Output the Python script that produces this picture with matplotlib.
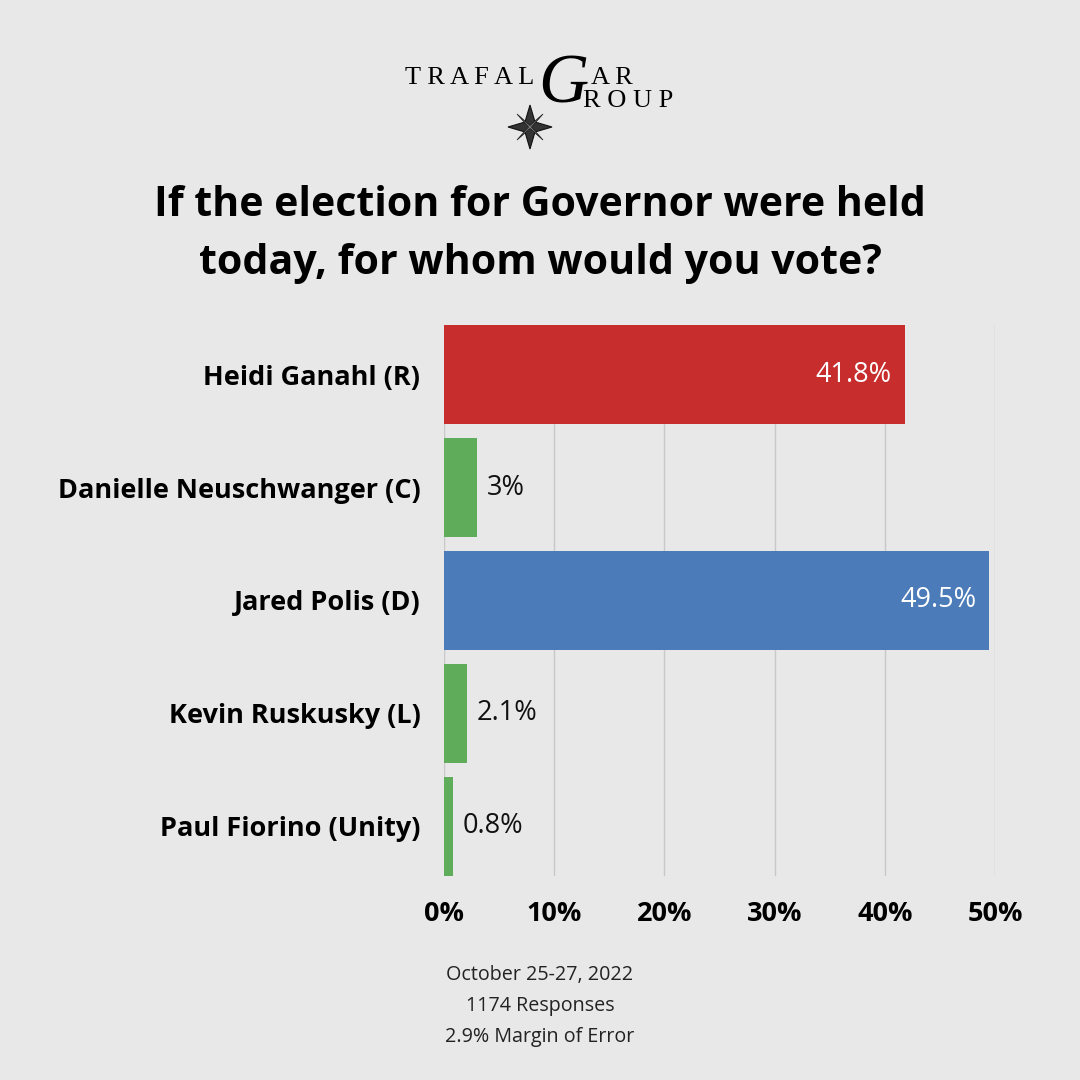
import matplotlib.pyplot as plt
import matplotlib.patches as mpatches

# poll data
candidates = ['Heidi Ganahl (R)', 'Danielle Neuschwanger (C)', 'Jared Polis (D)',
              'Kevin Ruskusky (L)', 'Paul Fiorino (Unity)']
shares = [41.8, 3, 49.5, 2.1, 0.8]
share_labels = ['41.8%', '3%', '49.5%', '2.1%', '0.8%']
bar_colors = ['#C82D2E', '#5FAD5A', '#4B7BB8', '#5FAD5A', '#5FAD5A']
x_ticks = [0, 10, 20, 30, 40, 50]
x_tick_labels = ['0%', '10%', '20%', '30%', '40%', '50%']

bg = '#E8E8E8'
plt.rcParams['font.family'] = ['Open Sans', 'DejaVu Sans']

fig = plt.figure(figsize=(10.8, 10.8), dpi=100, facecolor=bg)

# plot area in pixel terms: x 444..995, y 325..876
ax = fig.add_axes([444 / 1080, 1 - 876 / 1080, (995 - 444) / 1080, (876 - 325) / 1080])
ax.set_facecolor(bg)

pos = list(range(len(candidates)))
ax.barh(pos, shares, height=0.88, color=bar_colors, zorder=3)
ax.set_xlim(0, 50)
ax.set_ylim(4.44, -0.44)

# value labels
for i, v in enumerate(shares):
    if v > 20:
        ax.text(v - 1.2, i, share_labels[i], ha='right', va='center',
                color='white', fontsize=19.5, zorder=4)
    else:
        ax.text(v + 0.9, i, share_labels[i], ha='left', va='center',
                color='#111111', fontsize=19.5, zorder=4)

ax.set_yticks(pos)
ax.set_yticklabels(candidates, fontsize=19.5, fontweight='bold')
ax.set_xticks(x_ticks)
ax.set_xticklabels(x_tick_labels, fontsize=19.5, fontweight='bold')
ax.tick_params(axis='y', length=0, pad=17)
ax.tick_params(axis='x', length=0, pad=18)
ax.grid(axis='x', color='#C8C8C8', linewidth=1, zorder=0)
for s in ax.spines.values():
    s.set_visible(False)

# title
fig.text(0.5, 1 - 205 / 1080, 'If the election for Governor were held', ha='center',
         va='center', fontsize=29.6, fontweight='bold')
fig.text(0.5, 1 - 264 / 1080, 'today, for whom would you vote?', ha='center',
         va='center', fontsize=29.6, fontweight='bold')

# logo (approximation)
serif = 'Liberation Serif'
fig.text(405 / 1080, 1 - 78 / 1080, 'T R A F A L', ha='left', va='center',
         fontsize=19, family=serif)
fig.text(591 / 1080, 1 - 78 / 1080, 'A R', ha='left', va='center',
         fontsize=19, family=serif)
fig.text(583 / 1080, 1 - 101 / 1080, 'R O U P', ha='left', va='center',
         fontsize=19, family=serif)
fig.text(563 / 1080, 1 - 86 / 1080, 'G', ha='center', va='center',
         fontsize=50, family=serif, style='italic')

# compass star
cx, cy, r1, r2 = 530 / 1080, 1 - 127 / 1080, 22 / 1080, 5 / 1080
star_pts = [(cx, cy + r1), (cx + r2, cy + r2), (cx + r1, cy), (cx + r2, cy - r2),
            (cx, cy - r1), (cx - r2, cy - r2), (cx - r1, cy), (cx - r2, cy + r2),
            (cx, cy + r1)]
fig.patches.append(mpatches.Polygon(star_pts, closed=True, transform=fig.transFigure,
                                    facecolor='#333333', edgecolor='#111111', lw=0.8))
r3 = 13 / 1080
diag = [(cx + r3, cy + r3), (cx + r2 * 0.3, cy), (cx + r3, cy - r3), (cx, cy - r2 * 0.3),
        (cx - r3, cy - r3), (cx - r2 * 0.3, cy), (cx - r3, cy + r3), (cx, cy + r2 * 0.3),
        (cx + r3, cy + r3)]
fig.patches.append(mpatches.Polygon(diag, closed=True, transform=fig.transFigure,
                                    facecolor='#777777', edgecolor='#222222', lw=0.6))

# footer
footer = ['October 25-27, 2022', '1174 Responses', '2.9% Margin of Error']
for k, line in enumerate(footer):
    fig.text(540 / 1080, 1 - (975 + 31 * k) / 1080, line, ha='center', va='center',
             fontsize=14.2, color='#222222')

fig.savefig('out.png', dpi=100, facecolor=bg)
